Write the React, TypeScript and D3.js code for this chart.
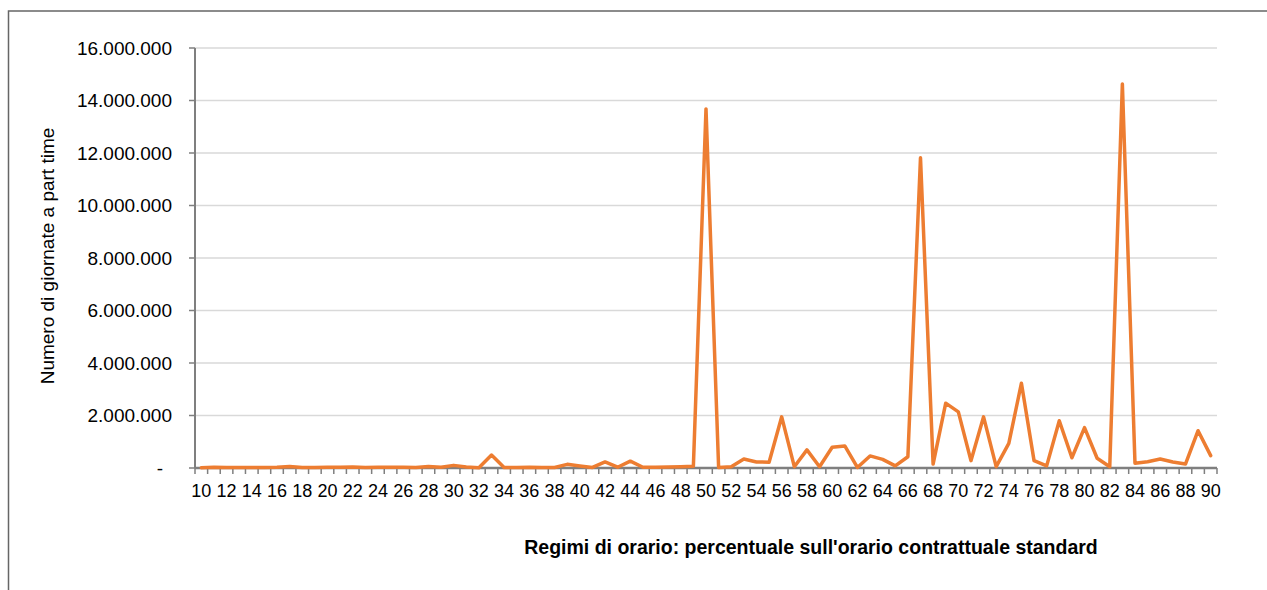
import React, { useRef, useEffect } from "react";
import * as d3 from "d3";

// percentuale sull'orario contrattuale standard (10..90)
const categories: number[] = d3.range(10, 91);

// numero di giornate a part time, one value per category
const giornate: number[] = [
  10000, 30000, 20000, 15000, 20000, 20000, 25000, 60000, 20000, 20000,
  25000, 30000, 40000, 20000, 30000, 30000, 25000, 20000, 60000, 30000,
  100000, 40000, 10000, 495000, 20000, 20000, 30000, 20000, 20000, 140000,
  80000, 20000, 230000, 30000, 260000, 30000, 30000, 40000, 50000, 70000,
  13680000, 20000, 50000, 340000, 230000, 220000, 1950000, 50000, 690000, 50000,
  790000, 840000, 20000, 460000, 330000, 80000, 430000, 11820000, 150000, 2470000,
  2140000, 280000, 1950000, 50000, 940000, 3230000, 280000, 80000, 1800000, 390000,
  1540000, 370000, 50000, 14630000, 180000, 240000, 340000, 230000, 150000, 1420000,
  470000,
];

const yTicks: number[] = [0, 2e6, 4e6, 6e6, 8e6, 10e6, 12e6, 14e6, 16e6];
const xLabels: number[] = categories.filter((c) => c % 2 === 0);

const yTitle = "Numero di giornate a part time";
const xTitle = "Regimi di orario: percentuale sull'orario contrattuale standard";

const width = 1267;
const height = 590;

const fmt = (v: number) =>
  v === 0 ? "-" : d3.format(",")(v).replace(/,/g, ".");

const App = () => {
  const svgRef = useRef<SVGSVGElement>(null);

  useEffect(() => {
    const svg = d3.select(svgRef.current);
    svg.selectAll("*").remove();

    const font = "'Liberation Sans', Arial, sans-serif";
    const axisColor = "#7f7f7f";

    const x = d3
      .scaleBand<number>()
      .domain(categories)
      .range([195, 1217]);

    const y = d3.scaleLinear().domain([0, 16e6]).range([468, 48]);

    // outer chart frame (runs off the right and bottom edges)
    svg
      .append("rect")
      .attr("x", 8.5)
      .attr("y", 11)
      .attr("width", 1300)
      .attr("height", 700)
      .attr("fill", "none")
      .attr("stroke", "#666")
      .attr("stroke-width", 1.5);

    // gridlines
    svg
      .append("g")
      .selectAll("line")
      .data(yTicks.filter((t) => t > 0))
      .join("line")
      .attr("x1", 195)
      .attr("x2", 1217)
      .attr("y1", (d) => y(d))
      .attr("y2", (d) => y(d))
      .attr("stroke", "#d9d9d9")
      .attr("stroke-width", 1.5);

    // y axis
    const yAxis = svg.append("g").attr("transform", "translate(195,0)");
    yAxis
      .append("line")
      .attr("y1", y(16e6))
      .attr("y2", y(0))
      .attr("stroke", axisColor)
      .attr("stroke-width", 2);
    yAxis
      .selectAll("line.tick")
      .data(yTicks)
      .join("line")
      .attr("class", "tick")
      .attr("x1", -6)
      .attr("x2", 0)
      .attr("y1", (d) => y(d))
      .attr("y2", (d) => y(d))
      .attr("stroke", axisColor)
      .attr("stroke-width", 1.5);
    yAxis
      .selectAll("text")
      .data(yTicks)
      .join("text")
      .attr("x", (d) => (d === 0 ? -32 : -23))
      .attr("y", (d) => y(d))
      .attr("dy", "0.35em")
      .attr("text-anchor", "end")
      .attr("font-family", font)
      .attr("font-size", 19)
      .attr("fill", "#000")
      .text((d) => fmt(d));

    // x axis
    const xAxis = svg.append("g").attr("transform", "translate(0,468)");
    xAxis
      .append("line")
      .attr("x1", 195)
      .attr("x2", 1217)
      .attr("stroke", axisColor)
      .attr("stroke-width", 2.5);
    xAxis
      .selectAll("line.tick")
      .data([...categories.map((c) => x(c) as number), 1217])
      .join("line")
      .attr("class", "tick")
      .attr("x1", (d) => d)
      .attr("x2", (d) => d)
      .attr("y1", 0)
      .attr("y2", 6)
      .attr("stroke", axisColor)
      .attr("stroke-width", 1.5);
    xAxis
      .selectAll("text")
      .data(xLabels)
      .join("text")
      .attr("x", (d) => (x(d) as number) + x.bandwidth() / 2)
      .attr("y", 29)
      .attr("text-anchor", "middle")
      .attr("font-family", font)
      .attr("font-size", 18)
      .attr("fill", "#000")
      .text((d) => String(d));

    // series line
    const line = d3
      .line<number>()
      .x((_, i) => (x(categories[i]) as number) + x.bandwidth() / 2)
      .y((d) => y(d));

    svg
      .append("path")
      .datum(giornate)
      .attr("d", line)
      .attr("fill", "none")
      .attr("stroke", "#ED7D31")
      .attr("stroke-width", 3.5)
      .attr("stroke-linejoin", "round")
      .attr("stroke-linecap", "round");

    // axis titles
    svg
      .append("text")
      .attr("transform", "translate(54,256) rotate(-90)")
      .attr("text-anchor", "middle")
      .attr("font-family", font)
      .attr("font-size", 19)
      .attr("fill", "#000")
      .text(yTitle);

    svg
      .append("text")
      .attr("x", 811)
      .attr("y", 554)
      .attr("text-anchor", "middle")
      .attr("font-family", font)
      .attr("font-size", 19.5)
      .attr("font-weight", "bold")
      .attr("fill", "#000")
      .text(xTitle);
  }, []);

  return (
    <svg
      ref={svgRef}
      width={width}
      height={height}
      style={{ position: "absolute", left: 0, top: 0, background: "#fff" }}
    ></svg>
  );
};

export default App;
